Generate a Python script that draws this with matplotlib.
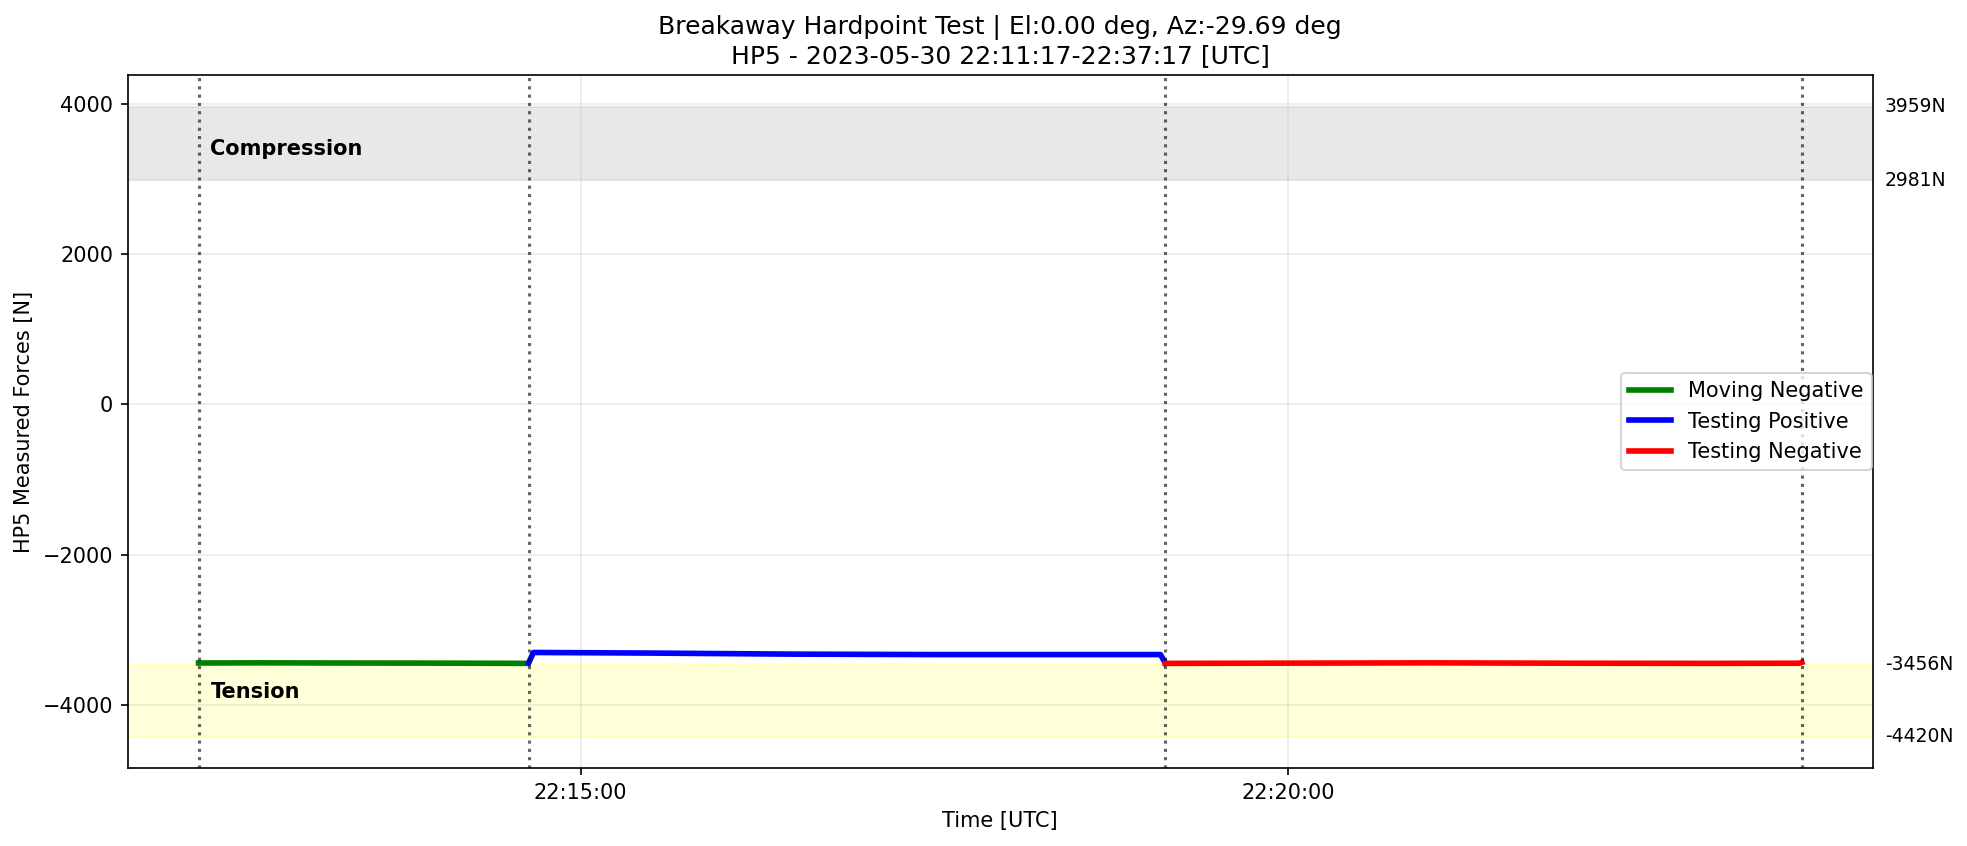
import numpy as np
import pandas as pd
import matplotlib
matplotlib.use("Agg")
import matplotlib.pyplot as plt
import matplotlib.dates as mdates

# Data ======================================
day = "2023-05-30 "

green_t = ["22:12:18", "22:12:45", "22:13:15", "22:13:45", "22:14:15", "22:14:37"]
green_f = [-3440, -3438, -3440, -3441, -3443, -3445]

blue_t = ["22:14:38", "22:14:40", "22:15:30", "22:16:30", "22:17:30", "22:18:30", "22:19:06", "22:19:08"]
blue_f = [-3440, -3300, -3308, -3322, -3328, -3328, -3328, -3440]

red_t = ["22:19:08", "22:20:00", "22:21:00", "22:22:00", "22:23:00", "22:23:37", "22:23:38"]
red_f = [-3445, -3442, -3438, -3443, -3445, -3443, -3432]

event_times = ["22:12:18", "22:14:38", "22:19:08", "22:23:38"]

comp_lims = [2981, 3959]
tens_lims = [-4420, -3456]

xlims = ["22:11:48", "22:24:08"]


def to_dt(lst):
    return pd.to_datetime([day + t for t in lst])


fig = plt.figure(figsize=(1967 / 150, 846 / 150), dpi=150)
ax = fig.add_axes([0.065, 0.092, 0.887, 0.819])

# Limit bands ===
ax.axhspan(comp_lims[0], comp_lims[1], color="lightgray", alpha=0.5)
ax.axhspan(tens_lims[0], tens_lims[1], color="yellow", alpha=0.15)

ax.plot(to_dt(green_t), green_f, color="green", lw=2.7, label="Moving Negative")
ax.plot(to_dt(blue_t), blue_f, color="blue", lw=2.7, label="Testing Positive")
ax.plot(to_dt(red_t), red_f, color="red", lw=2.7, label="Testing Negative")

for t in to_dt(event_times):
    ax.axvline(t, color="k", alpha=0.6, ls=":", lw=1.5)

ax.set_xlim(to_dt(xlims))
ax.set_ylim(-4839, 4378)

ax.xaxis.set_major_locator(mdates.MinuteLocator(byminute=[15, 20]))
ax.xaxis.set_major_formatter(mdates.DateFormatter("%H:%M:%S"))
ax.grid(alpha=0.25)

txt_x = to_dt(["22:12:23"])[0]
ax.text(txt_x, 3400, "Compression", fontweight="bold", va="center", fontsize=10)
ax.text(txt_x, -3830, "Tension", fontweight="bold", va="center", fontsize=10)

for val in comp_lims + tens_lims:
    ax.text(1.007, val, f"{val}N", transform=ax.get_yaxis_transform(),
            va="center", ha="left", fontsize=9)

ax.set_xlabel("Time [UTC]")
ax.set_ylabel("HP5 Measured Forces [N]")
ax.set_title("Breakaway Hardpoint Test | El:0.00 deg, Az:-29.69 deg\n"
             "HP5 - 2023-05-30 22:11:17-22:37:17 [UTC]", fontsize=12)
ax.legend(loc="center right", borderaxespad=0.05)

fig.savefig("out.png", dpi=150)
